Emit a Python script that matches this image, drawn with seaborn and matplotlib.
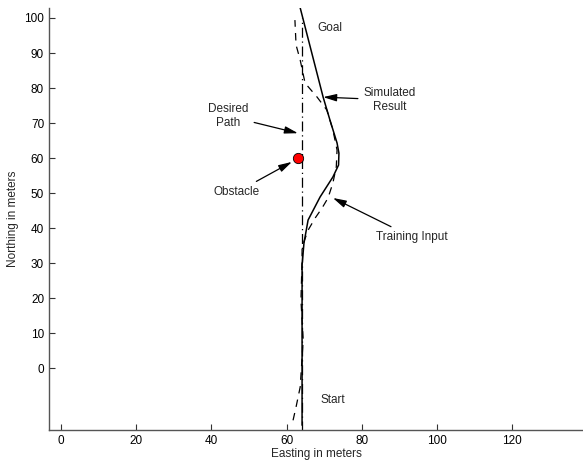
import pandas as pd
import seaborn as sns
import matplotlib.pyplot as plt

# training input (dashed), bottom to top
train_x = [61.7, 62.5, 63.6, 64.4, 63.8, 64.1, 64.1, 65.7, 67.6, 69.4, 71.0, 72.3, 73.2, 73.4, 72.3, 70.7, 68.1, 64.9, 63.6, 62.5, 62.2]
train_y = [-14.9, -11.1, -5.4, 8, 19.4, 30.9, 34.6, 39.4, 42.9, 45.7, 48.6, 52.9, 57.5, 62.3, 68, 73.7, 77.4, 81.4, 88, 92.3, 99.4]

# simulated result (solid)
sim_x = [64.1, 64.1, 64.1, 64.6, 65.7, 68.9, 72.3, 73.8, 73.9, 73.4, 71.5, 69.7, 63.6]
sim_y = [-16.3, 10, 29.4, 35.7, 42.3, 48.9, 54.6, 58.0, 61.4, 64.3, 70.9, 77.4, 102.9]

# desired path (dash-dot)
path_x = [64.1, 64.1]
path_y = [-18, 100]

obstacle_x = [63.0]
obstacle_y = [60.0]

df_train = pd.DataFrame({'x': train_x, 'y': train_y})
df_sim = pd.DataFrame({'x': sim_x, 'y': sim_y})
df_path = pd.DataFrame({'x': path_x, 'y': path_y})
df_obs = pd.DataFrame({'x': obstacle_x, 'y': obstacle_y})

sns.set_style('ticks')
plt.rcParams['font.family'] = ['Liberation Sans', 'DejaVu Sans']

fig = plt.figure(figsize=(5.83, 4.61), dpi=100)
ax = fig.add_axes([0.084, 0.067, 0.916, 0.916])

line_kw = dict(sort=False, estimator=None, errorbar=None, color='black', ax=ax)
sns.lineplot(data=df_path, x='x', y='y', lw=0.9, linestyle=(0, (8, 3, 1, 3)), **line_kw)
sns.lineplot(data=df_train, x='x', y='y', lw=0.9, linestyle=(0, (6, 5)), **line_kw)
sns.lineplot(data=df_sim, x='x', y='y', lw=1.1, **line_kw)
sns.scatterplot(data=df_obs, x='x', y='y', color='red', edgecolor='black',
                s=55, linewidth=0.6, zorder=5, ax=ax)

arrow = dict(arrowstyle='-|>,head_length=0.8,head_width=0.22', color='black', lw=0.9,
             mutation_scale=10, shrinkA=2, shrinkB=0)
fs = 8.5
ax.text(71.5, 97.1, 'Goal', fontsize=fs, ha='center', va='center')
ax.text(72.3, -9.1, 'Start', fontsize=fs, ha='center', va='center')
ax.annotate('Simulated\nResult', xy=(69.7, 77.4), xytext=(87.5, 76.6), fontsize=fs,
            ha='center', va='center', arrowprops=arrow)
ax.annotate('Training Input', xy=(72.3, 48.6), xytext=(93.4, 37.4), fontsize=fs,
            ha='center', va='center', arrowprops=arrow)
ax.annotate('Desired\nPath', xy=(63.0, 67.1), xytext=(44.4, 72.0), fontsize=fs,
            ha='center', va='center', arrowprops=arrow)
ax.annotate('Obstacle', xy=(61.4, 58.9), xytext=(46.8, 50.3), fontsize=fs,
            ha='center', va='center', arrowprops=arrow)

ax.set_xlim(-3.2, 138.8)
ax.set_ylim(-17.7, 102.9)
ax.set_xticks(range(0, 121, 20))
ax.set_yticks(range(0, 101, 10))
ax.tick_params(direction='in', length=4, width=0.8, labelsize=8.5, colors='#333333',
               labelcolor='black')
for side in ['top', 'right']:
    ax.spines[side].set_visible(False)
for side in ['left', 'bottom']:
    ax.spines[side].set_color('#555555')
    ax.spines[side].set_linewidth(1.0)
ax.set_xlabel('Easting in meters', fontsize=8.5, labelpad=1)
ax.set_ylabel('Northing in meters', fontsize=8.5, labelpad=4)

fig.savefig('out.png', dpi=100)
